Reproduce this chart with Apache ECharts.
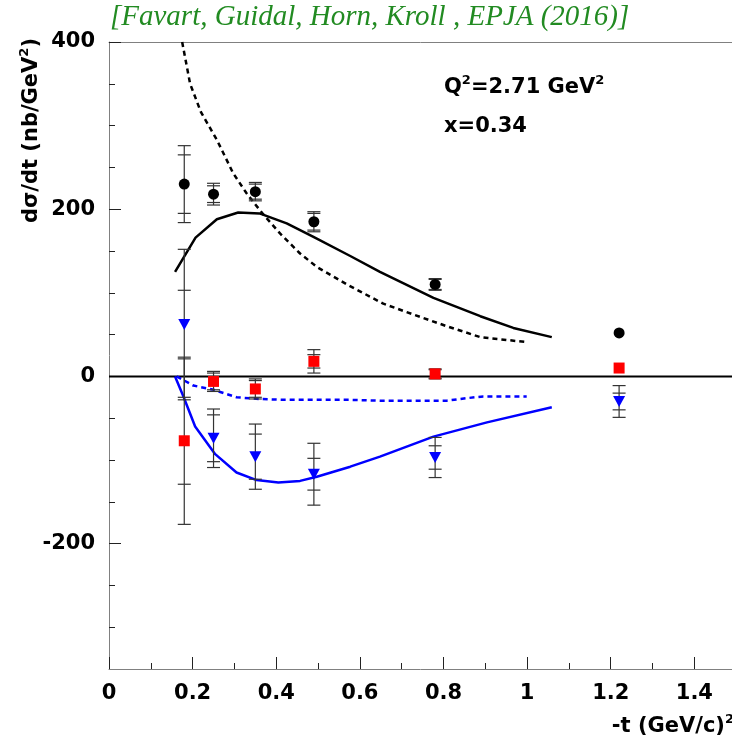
<!DOCTYPE html>
<html><head><meta charset="utf-8">
<script src="https://cdn.jsdelivr.net/npm/echarts@6/dist/echarts.min.js"></script>
<style>html,body{margin:0;padding:0;background:#fff}#c{width:732px;height:749px}</style>
</head><body><div id="c"></div>
<script>
// ---- data ----
const tPoints   = [0.18, 0.25, 0.35, 0.49, 0.78, 1.22];
const blackVals = [230, 218, 221, 185, 110, 52];
const blackStat = [35, 10, 9, 10, 6, 0];
const blackTot  = [46, 13, 11, 12, 7, 0];
const redVals   = [-77, -6, -15, 18, 3, 10];
const redStat   = [52, 10, 10, 8, 5, 0];
const redTot    = [100, 12, 12, 14, 6, 0];
const blueVals  = [62, -74, -96, -117, -97, -30];
const blueStat  = [41, 28, 27, 19, 14, 10];
const blueTot   = [90, 35, 39, 37, 24, 19];

const blackSolidT = [0.158, 0.207, 0.258, 0.309, 0.36, 0.425, 0.489, 0.577, 0.648, 0.776, 0.888, 0.967, 1.059];
const blackSolidY = [125, 166, 188, 196, 195, 183, 167, 144, 125, 94, 72, 58, 47];
const blackDashT  = [0.175, 0.194, 0.22, 0.258, 0.297, 0.329, 0.367, 0.409, 0.457, 0.497, 0.569, 0.656, 0.728, 0.808, 0.888, 0.999];
const blackDashY  = [400, 350, 316, 283, 243, 219, 195, 171, 147, 131, 110, 87, 74, 60, 47, 41];
const blueSolidT  = [0.158, 0.178, 0.206, 0.254, 0.305, 0.353, 0.405, 0.457, 0.497, 0.577, 0.648, 0.776, 0.904, 1.059];
const blueSolidY  = [0, -24, -60, -93, -115, -124, -127, -125, -120, -108, -96, -72, -55, -37];
const blueDashT   = [0.162, 0.202, 0.25, 0.305, 0.361, 0.417, 0.577, 0.648, 0.808, 0.856, 0.895, 0.999];
const blueDashY   = [0, -11, -16, -25, -27, -28, -28, -29, -29, -26, -24, -24];

const xMajorTicks = [0, 0.2, 0.4, 0.6, 0.8, 1.0, 1.2, 1.4];
const xMinorTicks = [0.1, 0.3, 0.5, 0.7, 0.9, 1.1, 1.3];
const yMajorTicks = [-200, 0, 200, 400];
const yMinorTicks = [-300, -250, -150, -100, -50, 50, 100, 150, 250, 300, 350];
const xMin = 0, xMax = 1.49, yMin = -350, yMax = 400;

// ---- build ----
const zip2 = (a, b) => a.map((v, i) => [v, b[i]]);
const errData = (vals, s, t) => tPoints.map((x, i) => [x, vals[i], s[i], t[i]]);

function errRender(params, api) {
  const x = api.value(0), y = api.value(1), s = api.value(2), t = api.value(3);
  if (!t && !s) return null;
  const hw = 6.5;
  const pTop = api.coord([x, y + t]), pBot = api.coord([x, y - t]);
  const sTop = api.coord([x, y + s]), sBot = api.coord([x, y - s]);
  const st = {stroke: '#333', lineWidth: 1.2};
  const ch = [{type: 'line', shape: {x1: pTop[0], y1: pTop[1], x2: pBot[0], y2: pBot[1]}, style: st}];
  [pTop, pBot, sTop, sBot].forEach(p => ch.push({type: 'line', shape: {x1: p[0] - hw, y1: p[1], x2: p[0] + hw, y2: p[1]}, style: st}));
  return {type: 'group', children: ch};
}

const FONT = 'DejaVu Sans';
const axisLabelFont = {fontFamily: FONT, fontWeight: 'bold', fontSize: 21, color: '#000'};
const richN = {fontFamily: FONT, fontWeight: 'bold', fontSize: 21, fill: '#000', lineHeight: 26};
const richS = {fontFamily: FONT, fontWeight: 'bold', fontSize: 13, fill: '#000', lineHeight: 26, padding: [0, 0, 14, 0]};
const lineGray = {show: true, onZero: false, lineStyle: {color: '#808080', width: 1}};

const chart = echarts.init(document.getElementById('c'), null, {renderer: 'canvas'});
chart.setOption({
  animation: false,
  backgroundColor: '#fff',
  grid: {left: 109, top: 42, right: 0, bottom: 80, show: false, containLabel: false},
  xAxis: [
    {type: 'value', min: xMin, max: xMax, position: 'bottom',
     axisLine: lineGray,
     axisTick: {show: true, inside: true, length: 12, customValues: xMajorTicks, lineStyle: {color: '#222'}},
     axisLabel: {show: true, customValues: xMajorTicks, margin: 14, ...axisLabelFont, formatter: v => String(+v.toFixed(1))},
     splitLine: {show: false}},
    {type: 'value', min: xMin, max: xMax, position: 'bottom',
     axisLine: {show: false, onZero: false},
     axisTick: {show: true, inside: true, length: 6, customValues: xMinorTicks, lineStyle: {color: '#222'}},
     axisLabel: {show: false}, splitLine: {show: false}},
    {type: 'value', min: xMin, max: xMax, position: 'top',
     axisLine: lineGray,
     axisTick: {show: false}, axisLabel: {show: false}, splitLine: {show: false}}
  ],
  yAxis: [
    {type: 'value', min: yMin, max: yMax, position: 'left',
     axisLine: lineGray,
     axisTick: {show: true, inside: true, length: 12, customValues: yMajorTicks, lineStyle: {color: '#222'}},
     axisLabel: {show: true, customValues: yMajorTicks, margin: 14, ...axisLabelFont},
     splitLine: {show: false}},
    {type: 'value', min: yMin, max: yMax, position: 'left',
     axisLine: {show: false, onZero: false},
     axisTick: {show: true, inside: true, length: 6, customValues: yMinorTicks, lineStyle: {color: '#222'}},
     axisLabel: {show: false}, splitLine: {show: false}}
  ],
  graphic: [
    {type: 'text', x: 110, y: 17, style: {text: '[Favart, Guidal, Horn, Kroll , EPJA (2016)]', verticalAlign: 'middle', fontFamily: 'Liberation Serif', fontStyle: 'italic', fontSize: 29, fill: '#228b22'}},
    {type: 'text', x: 444, y: 88, style: {text: '{n|Q}{s|2}{n|=2.71 GeV}{s|2}', verticalAlign: 'middle', rich: {n: richN, s: richS}}},
    {type: 'text', x: 444, y: 127, style: {text: 'x=0.34', verticalAlign: 'middle', fontFamily: FONT, fontWeight: 'bold', fontSize: 21, fill: '#000'}},
    {type: 'text', x: 32, y: 38, rotation: Math.PI / 2, style: {text: '{n|dσ/dt (nb/GeV}{s|2}{n|)}', align: 'right', verticalAlign: 'middle', rich: {n: richN, s: richS}}},
    {type: 'text', x: 734, y: 727, style: {text: '{n|-t (GeV/c)}{s|2}', align: 'right', verticalAlign: 'middle', rich: {n: richN, s: richS}}}
  ],
  series: [
    {type: 'line', name: 'zero', data: [[xMin, 0], [xMax, 0]], symbol: 'none', lineStyle: {color: '#000', width: 2}, z: 1, silent: true},
    {type: 'line', data: zip2(blackSolidT, blackSolidY), symbol: 'none', lineStyle: {color: '#000', width: 2.5}, z: 2},
    {type: 'line', data: zip2(blackDashT, blackDashY), symbol: 'none', lineStyle: {color: '#000', width: 2.5, type: [5, 4]}, z: 2},
    {type: 'line', data: zip2(blueSolidT, blueSolidY), symbol: 'none', lineStyle: {color: '#0000ff', width: 2.5}, z: 2},
    {type: 'line', data: zip2(blueDashT, blueDashY), symbol: 'none', lineStyle: {color: '#0000ff', width: 2.5, type: [5, 4]}, z: 2},
    {type: 'custom', renderItem: errRender, data: errData(redVals, redStat, redTot), z: 3, encode: {x: 0, y: 1}},
    {type: 'custom', renderItem: errRender, data: errData(blueVals, blueStat, blueTot), z: 3, encode: {x: 0, y: 1}},
    {type: 'custom', renderItem: errRender, data: errData(blackVals, blackStat, blackTot), z: 3, encode: {x: 0, y: 1}},
    {type: 'scatter', data: zip2(tPoints, redVals), symbol: 'rect', symbolSize: 11, itemStyle: {color: '#ff0000', opacity: 1}, z: 4},
    {type: 'scatter', data: zip2(tPoints, blueVals), symbol: 'triangle', symbolRotate: 180, symbolSize: [12, 11], itemStyle: {color: '#0000ff', opacity: 1}, z: 4},
    {type: 'scatter', data: zip2(tPoints, blackVals), symbol: 'circle', symbolSize: 11, itemStyle: {color: '#000', opacity: 1}, z: 4}
  ]
});
</script></body></html>
